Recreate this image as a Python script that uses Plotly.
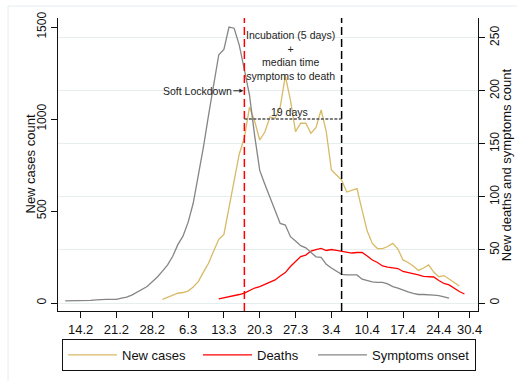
import pandas as pd
import plotly.graph_objects as go

# ---- data -------------------------------------------------------------
tick_dates = ["2020-02-14", "2020-02-21", "2020-02-28", "2020-03-06", "2020-03-13",
              "2020-03-20", "2020-03-27", "2020-04-03", "2020-04-10", "2020-04-17",
              "2020-04-24", "2020-04-30"]
tick_labels = ["14.2", "21.2", "28.2", "6.3", "13.3", "20.3", "27.3", "3.4",
               "10.4", "17.4", "24.4", "30.4"]

cases_start = "2020-03-01"
new_cases = [20, 31, 42, 53, 57, 65, 87, 116, 168, 216, 283, 346, 373, 516, 670, 810,
             897, 1065, 989, 886, 929, 1011, 1004, 1065, 1235, 1103, 931, 977, 977,
             922, 954, 1049, 931, 723, 696, 668, 603, 614, 622, 505, 391, 324, 296,
             296, 307, 324, 293, 234, 220, 201, 177, 190, 207, 168, 143, 149, 128,
             111, 92]

deaths_start = "2020-03-12"
deaths = [3.8, 4.7, 5.7, 6.8, 8.0, 9.4, 11.8, 14.1, 15.5, 17.4, 19.8, 21.7, 25.4,
          28.7, 34.4, 39.6, 43.8, 45.2, 49.0, 50.4, 51.4, 49.5, 50.4, 49.5, 48.5,
          47.6, 47.1, 47.6, 47.6, 44.3, 40.5, 38.2, 34.9, 33.9, 33.5, 32.5, 29.7,
          28.7, 27.8, 26.4, 25.0, 24.8, 24.5, 21.2, 18.4, 17.0, 13.7, 10.8, 8.5]

onset_start = "2020-02-11"
symptoms_onset = [2, 2, 2, 2, 2, 2.5, 3, 3.5, 3.5, 3.5, 3.5, 4.5, 5.5, 7.5, 10, 13,
                  15.5, 20, 24.5, 30, 36, 44, 55, 63, 76, 94, 120, 147, 177, 206,
                  234, 239, 260, 259, 243, 220, 196, 158, 125, 112, 99, 86, 75, 73.5,
                  62.5, 58.5, 54, 52, 48, 43.5, 43, 36.5, 33, 30, 27, 26.5, 26.5,
                  26.5, 22.5, 21, 20, 19.5, 19.5, 18, 15.5, 14, 12, 10.5, 9, 8, 8, 8,
                  7.5, 7, 6, 4.5]

lockdown_date = "2020-03-17"
lag_days = 19
incubation_text = "Incubation (5 days)<br>+<br>median time<br>symptoms to death"

# ---- derived dates ----------------------------------------------------
cases_x = pd.date_range(cases_start, periods=len(new_cases), freq="D")
deaths_x = pd.date_range(deaths_start, periods=len(deaths), freq="D")
onset_x = pd.date_range(onset_start, periods=len(symptoms_onset), freq="D")
lock = pd.Timestamp(lockdown_date)
lag_end = lock + pd.Timedelta(days=lag_days)
mid = lock + (lag_end - lock) / 2

FONT = "Liberation Sans, Arial, Helvetica, sans-serif"
W, H = 517, 381
L, R, T, B = 58, 39, 18, 70
PW, PH = W - L - R, H - T - B


def px_x(p):
    return (p - L) / PW


def px_y(p):
    return (H - B - p) / PH


fig = go.Figure()
fig.add_trace(go.Scatter(x=cases_x, y=new_cases, name="New cases", mode="lines",
                         line=dict(color="#d8b965", width=1.3), yaxis="y",
                         legendwidth=71))
fig.add_trace(go.Scatter(x=deaths_x, y=deaths, name="Deaths", mode="lines",
                         line=dict(color="#ff0000", width=1.3), yaxis="y2",
                         legendwidth=51))
fig.add_trace(go.Scatter(x=onset_x, y=symptoms_onset, name="Symptoms onset", mode="lines",
                         line=dict(color="#858585", width=1.3), yaxis="y2"))

shapes = [
    # graph region frame
    dict(type="rect", xref="paper", yref="paper", x0=px_x(8), x1=px_x(560),
         y0=px_y(6), y1=px_y(420), line=dict(color="#e3ecef", width=1),
         fillcolor="rgba(0,0,0,0)", layer="below"),
    # lockdown and lagged lines
    dict(type="line", xref="x", yref="paper", x0=lock, x1=lock, y0=0, y1=1,
         line=dict(color="#ff0000", width=1.5, dash="8px,4px")),
    dict(type="line", xref="x", yref="paper", x0=lag_end, x1=lag_end, y0=0, y1=1,
         line=dict(color="#000000", width=1.5, dash="8px,4px")),
    dict(type="line", xref="x", yref="y", x0=lock, x1=lag_end, y0=1000, y1=1000,
         line=dict(color="#555555", width=1.3, dash="3px,1.5px")),
]

annotations = [
    dict(x=lock, y=200, xref="x", yref="y2", text="Soft Lockdown", showarrow=True,
         ax=-47, ay=0, arrowhead=2, arrowsize=0.8, arrowwidth=1, arrowcolor="#222",
         standoff=1, font=dict(family=FONT, size=10.5, color="#222")),
    dict(x=mid, y=1000, xref="x", yref="y", text=f"{lag_days} days", showarrow=False,
         yanchor="bottom", yshift=-1, xshift=-3, font=dict(family=FONT, size=10.5, color="#222")),
    dict(x=mid, y=px_y(55.5), xref="x", yref="paper", text=incubation_text,
         showarrow=False, yanchor="middle", xshift=-2,
         font=dict(family=FONT, size=10.5, color="#222")),
    # axis titles
    dict(x=px_x(30), y=0.5, xref="paper", yref="paper", text="New cases count",
         textangle=-90, showarrow=False, xanchor="center", yanchor="middle",
         font=dict(family=FONT, size=13, color="#111")),
    dict(x=px_x(506.7), y=0.5, xref="paper", yref="paper",
         text="New deaths and symptoms count", textangle=-90, showarrow=False,
         xanchor="center", yanchor="middle",
         font=dict(family=FONT, size=13, color="#111")),
]

fig.update_layout(
    width=W, height=H,
    margin=dict(l=L, r=R, t=T, b=B, autoexpand=False),
    paper_bgcolor="white", plot_bgcolor="white",
    font=dict(family=FONT, size=13, color="#111"),
    showlegend=True,
    legend=dict(orientation="h", x=px_x(62), xanchor="left", y=px_y(339),
                yanchor="top", bordercolor="#111", borderwidth=1,
                font=dict(size=13), itemwidth=49, tracegroupgap=0),
    xaxis=dict(type="date",
               range=[pd.Timestamp("2020-02-09 14:00"), pd.Timestamp("2020-05-01 15:36")],
               tickvals=tick_dates, ticktext=tick_labels, ticks="outside", ticklen=6,
               tickcolor="#111", showline=True, linecolor="#111", linewidth=1,
               showgrid=False, zeroline=False, tickfont=dict(size=13)),
    yaxis=dict(range=[-43.5, 1549], tickvals=[0, 500, 1000, 1500], tickangle=-90,
               ticks="outside", ticklen=6, tickcolor="#111", showline=True,
               linecolor="#111", linewidth=1, showgrid=False, zeroline=False,
               tickfont=dict(size=12)),
    yaxis2=dict(overlaying="y", side="right", range=[-7.54, 268.6],
                tickvals=[0, 50, 100, 150, 200, 250], tickangle=-90, ticks="outside",
                ticklen=6, tickcolor="#111", showline=True, linecolor="#111", linewidth=1,
                showgrid=True, gridcolor="#e6eef0", gridwidth=1, zeroline=False,
                tickfont=dict(size=12)),
    shapes=shapes,
    annotations=annotations,
)

fig.write_html("out.html")
